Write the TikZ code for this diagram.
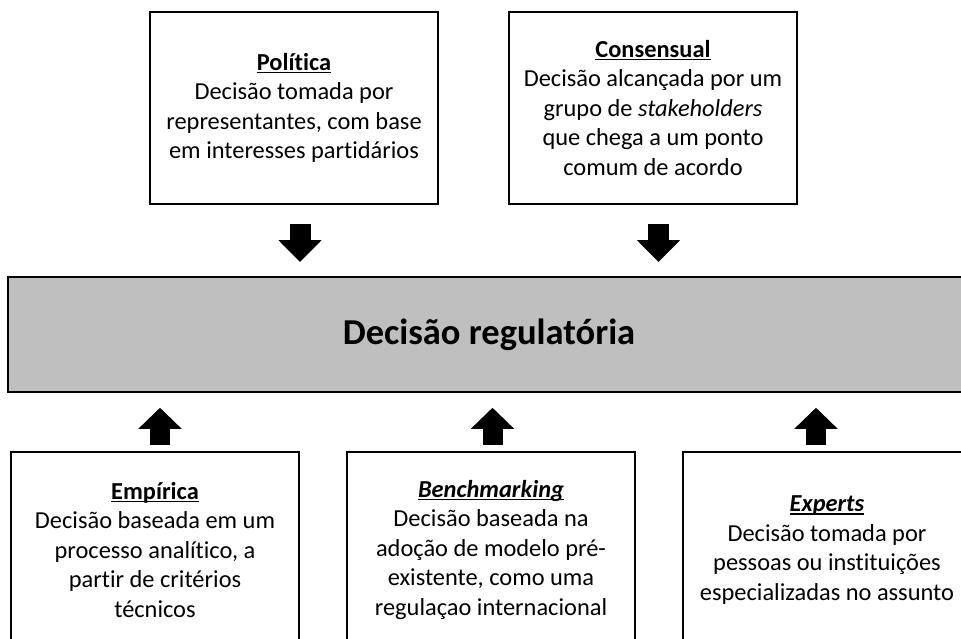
\documentclass[tikz,border=0pt]{standalone}
\usepackage{fontspec}
\setmainfont{Carlito}[Ligatures=NoCommon]
\usetikzlibrary{calc,arrows.meta}
\definecolor{boxgray}{HTML}{BFBFBF}
% underlined box title, rule at a fixed depth
\newcommand{\sublinha}[1]{\leavevmode\setbox0\hbox{#1}\rlap{\copy0}\rule[-3pt]{\wd0}{1.6pt}}

\begin{document}
\begin{tikzpicture}[x=1pt, y=-1pt,
  box/.style={draw, line width=2pt, minimum width=288pt, minimum height=192pt,
    inner sep=0pt, align=center, font=\fontsize{24.4}{29.5}\selectfont},
  mainbox/.style={draw, line width=2pt, fill=boxgray, minimum width=962pt,
    minimum height=114.7pt, font=\fontsize{36.5}{44}\selectfont\bfseries},
  downarrow/.style={line width=21pt, -{Triangle[length=22pt,width=42pt]},
    shorten <=19pt, shorten >=14pt},
  uparrow/.style={line width=20pt, -{Triangle[length=21pt,width=42pt]},
    shorten <=6pt, shorten >=15pt}]

% Page frame (the right and bottom boxes run past it)
\clip (0,0) rectangle (961,639);
\fill[white] (0,0) rectangle (961,639);

% Central decision
\node[mainbox] (main) at (489,334.4) {Decisão regulatória};

% Upper boxes
\node[box] (pol) at (294,108) {\sublinha{\textbf{Política}}\\Decisão tomada por\\representantes, com base\\em interesses partidários};
\node[box] (con) at (653,108) {\sublinha{\textbf{Consensual}}\\Decisão alcançada por um\\grupo de \textit{stakeholders}\\que chega a um ponto\\comum de acordo};

% Lower boxes
\node[box, minimum height=196pt] (emp) at (155,550) {\sublinha{\textbf{Empírica}}\\Decisão baseada em um\\processo analítico, a\\partir de critérios\\técnicos};
\node[box, minimum height=196pt] (ben) at (491,550) {\sublinha{\textbf{\textit{Benchmarking}}}\\Decisão baseada na\\adoção de modelo pré-\\existente, como uma\\regulaçao internacional};
\node[box, minimum height=196pt] (exp) at (827,550) {\sublinha{\textbf{\textit{Experts}}}\\Decisão tomada por\\pessoas ou instituições\\especializadas no assunto};

% Arrows into the decision
\draw[downarrow] ($(pol.south)+(6,0)$) -- ($(pol.south |- main.north)+(6,0)$);
\draw[downarrow] ($(con.south)+(5.5,0)$) -- ($(con.south |- main.north)+(5.5,0)$);
\draw[uparrow] ($(emp.north)+(5,0)$) -- ($(emp.north |- main.south)+(5,0)$);
\draw[uparrow] ($(ben.north)+(1.5,0)$) -- ($(ben.north |- main.south)+(1.5,0)$);
\draw[uparrow] ($(exp.north)+(-11,0)$) -- ($(exp.north |- main.south)+(-11,0)$);

\end{tikzpicture}
\end{document}
